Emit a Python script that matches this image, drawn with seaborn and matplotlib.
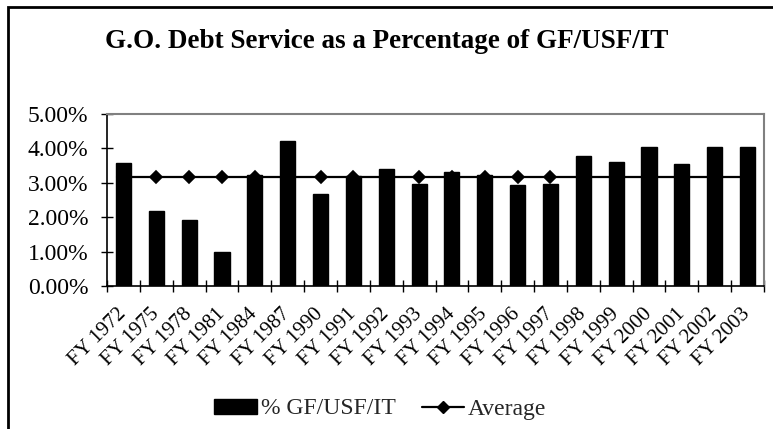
import matplotlib
matplotlib.use("Agg")
import matplotlib.pyplot as plt
import seaborn as sns
import pandas as pd
from matplotlib.patches import Patch, Rectangle
from matplotlib.lines import Line2D
from matplotlib.ticker import FuncFormatter, FixedLocator

# ---- data ----
categories = ["FY 1972", "FY 1975", "FY 1978", "FY 1981", "FY 1984", "FY 1987",
              "FY 1990", "FY 1991", "FY 1992", "FY 1993", "FY 1994", "FY 1995",
              "FY 1996", "FY 1997", "FY 1998", "FY 1999", "FY 2000", "FY 2001",
              "FY 2002", "FY 2003"]
pct_values = [3.57, 2.18, 1.92, 0.98, 3.22, 4.21, 2.67, 3.20, 3.41, 2.96,
              3.32, 3.24, 2.94, 2.96, 3.78, 3.60, 4.03, 3.56, 4.03, 4.03]
average_values = [3.16] * 20
yticks = [0, 1, 2, 3, 4, 5]
title = "G.O. Debt Service as a Percentage of GF/USF/IT"
bar_label = "% GF/USF/IT"
line_label = "Average"

df = pd.DataFrame({"cat": categories, "pct": pct_values, "avg": average_values})

sns.set_theme(style="white")
plt.rcParams["font.family"] = ["Liberation Serif", "DejaVu Serif"]

fig = plt.figure(figsize=(7.73, 4.29), dpi=100)
ax = fig.add_axes([107 / 773, 1 - 286 / 429, (764 - 107) / 773, (286 - 114) / 429])

sns.pointplot(data=df, x="cat", y="avg", color="black", markers="D",
              markersize=6, linewidth=1.6, ax=ax, errorbar=None)
for ln in ax.lines:
    ln.set_zorder(1)
sns.barplot(data=df, x="cat", y="pct", color="black", width=0.46,
            saturation=1, ax=ax, zorder=2)
for p in ax.patches:
    p.set_edgecolor("black")
    p.set_zorder(2)

n = len(categories)
ax.set_xlim(-0.5, n - 0.5)
ax.set_ylim(0, 5)
ax.set_yticks(yticks)
ax.yaxis.set_major_formatter(FuncFormatter(lambda v, _: f"{v:.2f}%"))
ax.set_xlabel("")
ax.set_ylabel("")

ax.set_xticks(range(n))
ax.set_xticklabels(categories, rotation=45, ha="right", va="center",
                   rotation_mode="anchor", fontsize=15)
ax.xaxis.set_minor_locator(FixedLocator([i - 0.5 for i in range(n + 1)]))
ax.tick_params(axis="x", which="major", length=0, pad=18)
ax.tick_params(axis="x", which="minor", length=9, width=1, direction="inout",
               color="black", bottom=True)
ax.tick_params(axis="y", which="major", length=9, width=1, direction="inout",
               color="black", left=True, labelsize=17, pad=9)

for s in ["left", "bottom"]:
    ax.spines[s].set_color("black")
    ax.spines[s].set_linewidth(1.2)
for s in ["top", "right"]:
    ax.spines[s].set_color("#808080")
    ax.spines[s].set_linewidth(1.5)
for lbl in ax.get_xticklabels() + ax.get_yticklabels():
    lbl.set_color("black")

fig.text(0.5, 1 - 41 / 429, title, ha="center", va="center",
         fontsize=19.5, fontweight="bold", color="black")

handles = [Patch(facecolor="black", edgecolor="black", label=bar_label),
           Line2D([], [], color="black", marker="D", markersize=6, linewidth=1.6,
                  label=line_label)]
fig.legend(handles=handles, loc="center", bbox_to_anchor=(0.492, 1 - 409 / 429),
           ncol=2, frameon=False, fontsize=17, handlelength=1.8,
           handletextpad=0.17, columnspacing=1.1, handleheight=0.6)

fig.patches.append(Rectangle((8 / 773, -0.1), 1.2, 1.1 - 7 / 429,
                             transform=fig.transFigure, fill=False,
                             edgecolor="black", linewidth=2, zorder=10))

fig.savefig("out.png", dpi=100, facecolor="white")
